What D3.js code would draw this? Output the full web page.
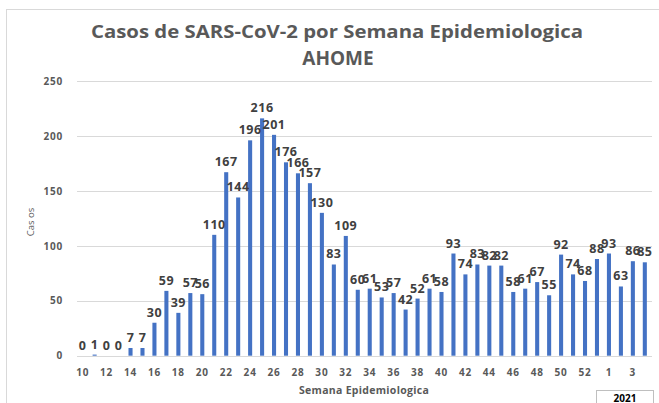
<!DOCTYPE html>
<html>
<head>
<meta charset="utf-8">
<script src="https://cdn.jsdelivr.net/npm/d3@7"></script>
<style>
  html, body { margin: 0; padding: 0; background: #fff; }
  svg { display: block; font-family: "Open Sans", "Noto Sans", sans-serif; }
</style>
</head>
<body>
<svg id="chart" width="659" height="403"></svg>
<script>
// ---- data ----
const weeks = ["10","11","12","13","14","15","16","17","18","19","20","21","22","23","24","25","26","27","28","29","30","31","32","33","34","35","36","37","38","39","40","41","42","43","44","45","46","47","48","49","50","51","52","53","1","2","3","4"];
const years = [2020,2020,2020,2020,2020,2020,2020,2020,2020,2020,2020,2020,2020,2020,2020,2020,2020,2020,2020,2020,2020,2020,2020,2020,2020,2020,2020,2020,2020,2020,2020,2020,2020,2020,2020,2020,2020,2020,2020,2020,2020,2020,2020,2020,2021,2021,2021,2021];
const cases = [0,1,0,0,7,7,30,59,39,57,56,110,167,144,196,216,201,176,166,157,130,83,109,60,61,53,57,42,52,61,58,93,74,83,82,82,58,61,67,55,92,74,68,88,93,63,86,85];
const yTicks = [0,50,100,150,200,250];
const titleLines = ["Casos de SARS-CoV-2 por Semana Epidemiologica", "AHOME"];
const xTitle = "Semana Epidemiologica";
const yTitle = "Cas os";
const yearLabel = "2021";

const data = weeks.map((w, i) => ({ key: years[i] + "-" + w, week: w, value: cases[i], idx: i }));

const svg = d3.select("#chart");
const W = 659, H = 403;

// chart border
svg.append("rect").attr("x", 6.5).attr("y", 9.5).attr("width", W).attr("height", H)
  .attr("fill", "#fff").attr("stroke", "#d9d9d9").attr("stroke-width", 1);

const x = d3.scaleBand().domain(data.map(d => d.key)).range([76.7, 650.8]).paddingInner(0.66).paddingOuter(0.33);
const y = d3.scaleLinear().domain([0, 250]).range([355.7, 81]);

// gridlines
svg.append("g").selectAll("line").data(yTicks).join("line")
  .attr("x1", 77).attr("x2", 652)
  .attr("y1", d => Math.round(y(d)) + 0.5).attr("y2", d => Math.round(y(d)) + 0.5)
  .attr("stroke", "#d9d9d9").attr("stroke-width", 1);

// y axis
const yAxis = d3.axisLeft(y).tickValues(yTicks).tickSize(0).tickPadding(0);
const gy = svg.append("g").attr("transform", "translate(63,0)").call(yAxis);
gy.select(".domain").remove();
gy.selectAll("text").attr("font-size", 10).attr("font-weight", "bold").attr("fill", "#595959")
  .attr("letter-spacing", 0.8).attr("font-family", "Open Sans");

// x axis
const xAxis = d3.axisBottom(x).tickSize(0).tickPadding(0)
  .tickValues(data.filter(d => d.idx % 2 === 0).map(d => d.key))
  .tickFormat(k => data.find(d => d.key === k).week);
const gx = svg.append("g").attr("transform", "translate(0,369)").call(xAxis);
gx.select(".domain").remove();
gx.selectAll("text").attr("font-size", 10).attr("font-weight", "bold").attr("fill", "#595959")
  .attr("letter-spacing", 0.8).attr("font-family", "Open Sans");

// bars
svg.append("g").selectAll("rect").data(data).join("rect")
  .attr("x", d => x(d.key)).attr("width", x.bandwidth())
  .attr("y", d => y(d.value)).attr("height", d => y(0) - y(d.value))
  .attr("fill", "#4472c4");

// data labels
svg.append("g").selectAll("text").data(data).join("text")
  .attr("x", d => x(d.key) + x.bandwidth() / 2)
  .attr("y", d => y(d.value) - 6)
  .attr("text-anchor", "middle")
  .attr("font-size", 12.5).attr("font-weight", "bold").attr("fill", "#404040")
  .attr("letter-spacing", 0.5)
  .text(d => d.value);

// title
svg.append("text").attr("x", 337).attr("y", 38).attr("text-anchor", "middle")
  .attr("font-size", 18).attr("font-weight", "bold").attr("fill", "#595959")
  .attr("textLength", 492).attr("lengthAdjust", "spacingAndGlyphs")
  .text(titleLines[0]);
svg.append("text").attr("x", 338).attr("y", 65).attr("text-anchor", "middle")
  .attr("font-size", 19).attr("font-weight", "bold").attr("fill", "#595959")
  .text(titleLines[1]);

// axis titles
svg.append("text").attr("x", 364).attr("y", 394).attr("text-anchor", "middle")
  .attr("font-size", 10.5).attr("font-weight", "bold").attr("fill", "#595959")
  .attr("letter-spacing", 0.3)
  .text(xTitle);
svg.append("text").attr("transform", "translate(34,222) rotate(-90)").attr("text-anchor", "middle")
  .attr("font-size", 9.5).attr("fill", "#595959")
  .text(yTitle);

// 2021 year box
svg.append("rect").attr("x", 596.5).attr("y", 390.5).attr("width", 57).attr("height", 20)
  .attr("fill", "#fff").attr("stroke", "#bfbfbf");
svg.append("text").attr("x", 625).attr("y", 402).attr("text-anchor", "middle")
  .attr("font-size", 10).attr("font-weight", "bold").attr("fill", "#000")
  .text(yearLabel);
</script>
</body>
</html>
